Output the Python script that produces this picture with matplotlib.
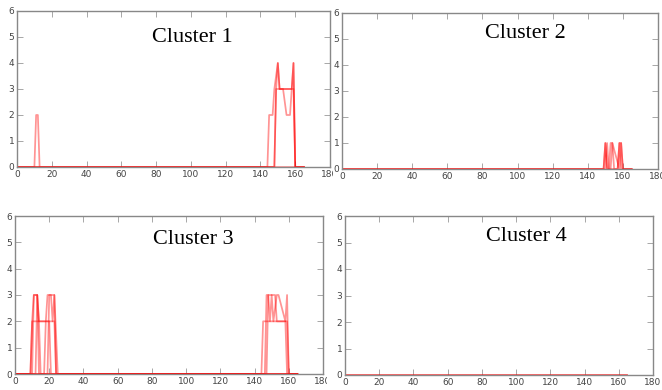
import matplotlib
matplotlib.use('Agg')
import matplotlib.pyplot as plt
from matplotlib.transforms import Bbox

# each line is given by its breakpoints (x, y)
titles = ['Cluster 1', 'Cluster 2', 'Cluster 3', 'Cluster 4']

c1_lines = [
	([0, 10, 11, 12, 13, 165], [0, 0, 2, 2, 0, 0]),
	([0, 144, 145, 147, 148, 150, 151, 153, 155, 157, 158, 159, 160, 165],
	 [0, 0, 2, 2, 3, 4, 3, 3, 2, 2, 3, 4, 0, 0]),
	([0, 148, 149, 158, 159, 160, 165], [0, 0, 3, 3, 4, 0, 0]),
	([0, 148, 149, 150, 151, 159, 160, 165], [0, 0, 3, 4, 3, 3, 0, 0]),
]

c2_lines = [
	([0, 149, 150, 151, 152, 153, 154, 155, 157, 158, 159, 165], [0, 0, 1, 0, 0, 1, 1, 0, 0, 1, 0, 0]),
	([0, 149, 150, 151, 157, 158, 159, 160, 165], [0, 0, 1, 0, 0, 1, 1, 0, 0]),
	([0, 150, 151, 152, 153, 154, 158, 159, 160, 165], [0, 0, 1, 0, 0, 1, 0, 1, 0, 0]),
]

c3_lines = [
	([0, 9, 10, 11, 13, 14, 18, 19, 23, 24, 165], [0, 0, 2, 3, 3, 2, 2, 3, 3, 0, 0]),
	([0, 10, 11, 13, 14, 19, 20, 21, 22, 23, 25, 165], [0, 0, 3, 3, 0, 0, 3, 3, 2, 3, 0, 0]),
	([0, 9, 10, 23, 24, 165], [0, 0, 2, 2, 0, 0]),
	([0, 12, 13, 14, 15, 17, 18, 20, 21, 165], [0, 0, 3, 2, 0, 0, 2, 2, 0, 0]),
	([0, 144, 145, 159, 160, 165], [0, 0, 2, 2, 0, 0]),
	([0, 146, 147, 148, 149, 150, 151, 153, 154, 158, 159, 160, 165],
	 [0, 0, 3, 3, 2, 3, 2, 3, 3, 2, 3, 0, 0]),
	([0, 147, 148, 152, 153, 158, 159, 165], [0, 0, 3, 3, 2, 2, 0, 0]),
]

c4_lines = [
	([0, 165], [0, 0]),
	([0, 165], [0, 0]),
]

all_lines = [c1_lines, c2_lines, c3_lines, c4_lines]

# axes placement in pixels: left, top, right, bottom
boxes = [(17, 11, 330, 167), (342, 13, 658, 169), (15, 216, 323, 374), (345, 216, 653, 375)]
title_pos = [(0.56, 0.80), (0.58, 0.84), (0.58, 0.82), (0.59, 0.84)]
# the "180" label of the left panels is cut where the right panels begin
cut_x = [333, None, 327, None]

W, H = 662, 390
fig = plt.figure(figsize=(W / 100, H / 100), dpi=100)
fig.set_facecolor('white')

axes = []
for i in range(4):
	l, t, r, b = boxes[i]
	ax = fig.add_axes([l / W, (H - b) / H, (r - l) / W, (b - t) / H])
	axes.append(ax)

	for xs, ys in all_lines[i]:
		ax.plot(xs, ys, '-', color='red', alpha=0.42, linewidth=1.25)

	ax.set_xlim(0, 180)
	ax.set_ylim(0, 6)
	ax.set_xticks(range(0, 181, 20))
	ax.set_yticks(range(0, 7))

	for s in ax.spines.values():
		s.set_color('#888888')
		s.set_linewidth(1.0)
	ax.tick_params(direction='in', length=4, width=0.6, color='#999999',
				   labelsize=6.5, labelcolor='#444444', top=True, right=True, pad=2)

	ax.text(title_pos[i][0], title_pos[i][1], titles[i], transform=ax.transAxes,
			ha='center', va='baseline', fontsize=16, family='Liberation Serif', color='black')

fig.canvas.draw()
for i, ax in enumerate(axes):
	if cut_x[i] is None:
		continue
	lab = ax.xaxis.get_major_ticks()[-1].label1
	lab.set_clip_box(Bbox([[0, 0], [cut_x[i], H]]))
	lab.set_clip_on(True)

plt.savefig('out.png', dpi=100, facecolor='white')
